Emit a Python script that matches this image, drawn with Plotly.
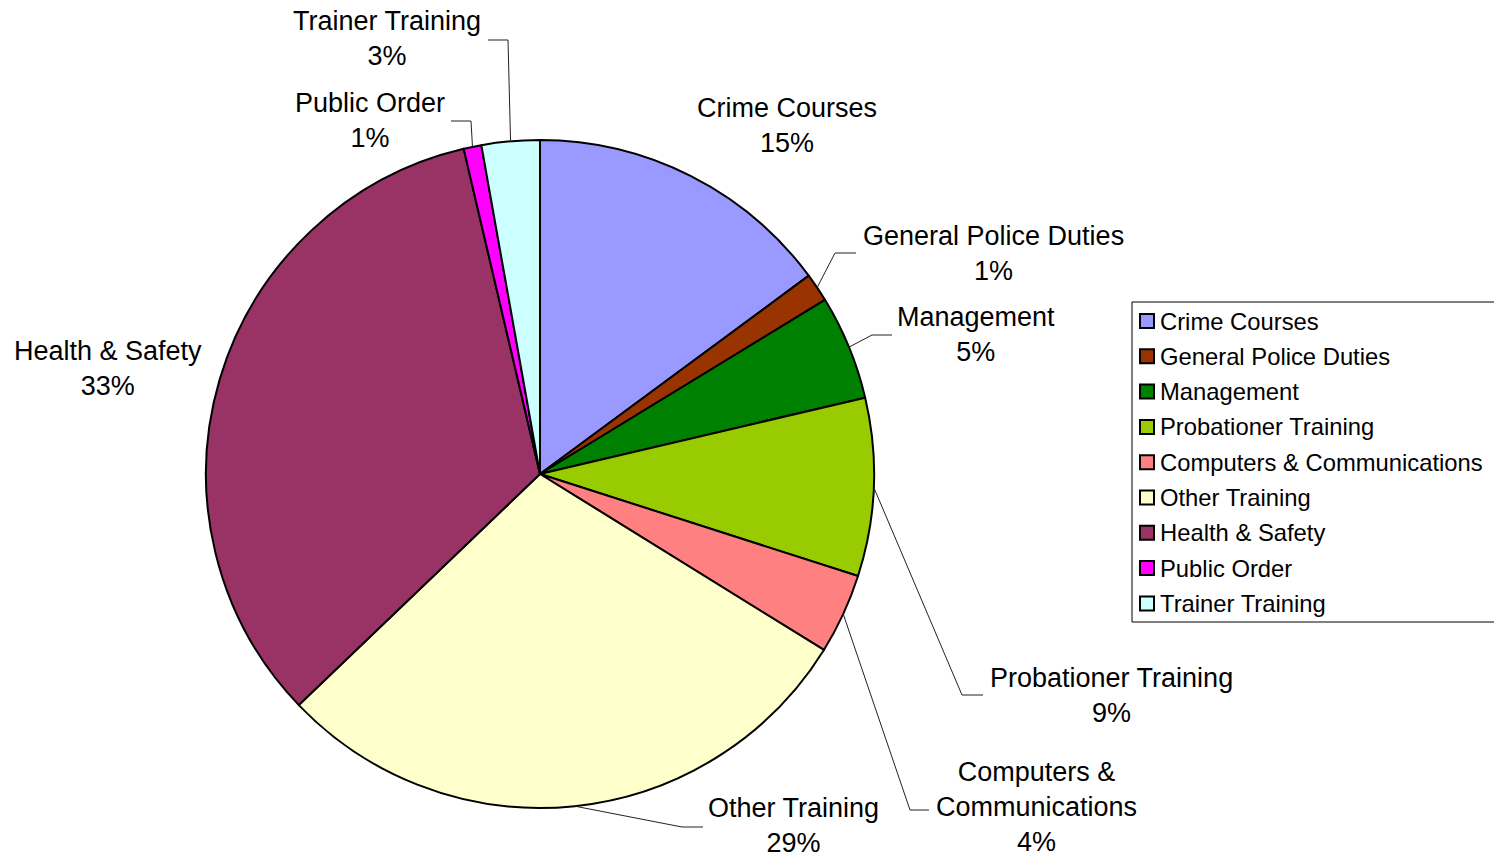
import math
import plotly.graph_objects as go

# ---- data ----
categories = ["Crime Courses", "General Police Duties", "Management", "Probationer Training",
              "Computers & Communications", "Other Training", "Health & Safety",
              "Public Order", "Trainer Training"]
values = [14.88, 1.39, 5.06, 8.61, 3.89, 29.01, 33.49, 0.86, 2.81]
colors = ["#9999FF", "#993300", "#008000", "#99CC00", "#FF8080",
          "#FFFFCC", "#993366", "#FF00FF", "#CCFFFF"]

# ---- layout constants (pixels) ----
W, H = 1494, 858
CX, CY, R = 540, 474, 334
FONT = "Liberation Sans, Arial, sans-serif"

label_breaks = {"Computers & Communications": "Computers &<br>Communications"}
# text-block centre, and leader elbow/end (None = no leader)
label_layout = {
    "Crime Courses": ((787, 125), None),
    "General Police Duties": ((993, 253), [(835, 253), (856, 253)]),
    "Management": ((976, 334), [(872, 335), (892, 335)]),
    "Probationer Training": ((1111, 695), [(962, 695), (983, 695)]),
    "Computers & Communications": ((1036, 807), [(910, 810), (929, 810)]),
    "Other Training": ((794, 825.5), [(682, 827), (703, 827)]),
    "Health & Safety": ((108, 369), None),
    "Public Order": ((370, 120.5), [(471, 121), (451, 121)]),
    "Trainer Training": ((387, 39), [(508, 40), (488, 40)]),
}


def px(x):
    return x / W


def py(y):
    return 1 - y / H


fig = go.Figure(go.Pie(
    labels=categories, values=values, sort=False, direction="clockwise", rotation=0,
    marker=dict(colors=colors, line=dict(color="black", width=2)),
    textinfo="none", showlegend=False,
    domain=dict(x=[px(CX - R), px(CX + R)], y=[py(CY + R), py(CY - R)]),
))

total = sum(values)
annotations = []
shapes = []
cum = 0.0
for cat, v in zip(categories, values):
    mid = (cum + v / 2) / total * 2 * math.pi
    cum += v
    sx, sy = CX + R * math.sin(mid), CY - R * math.cos(mid)
    (tx, ty), leader = label_layout[cat]
    pct = round(v / total * 100)
    text = f"{label_breaks.get(cat, cat)}<br>{pct}%"
    annotations.append(dict(x=px(tx), y=py(ty), xref="paper", yref="paper", text=text,
                            showarrow=False, xanchor="center", yanchor="middle",
                            font=dict(family=FONT, size=27, color="black")))
    if leader:
        pts = [(sx, sy)] + leader
        path = "M " + " L ".join(f"{px(a)} {py(b)}" for a, b in pts)
        shapes.append(dict(type="path", path=path, xref="paper", yref="paper",
                           line=dict(color="#222222", width=1)))

# ---- legend (drawn) ----
LX0, LY0, LY1 = 1132, 302, 622
shapes.append(dict(type="rect", xref="paper", yref="paper", x0=px(LX0), x1=px(W + 10),
                   y0=py(LY1), y1=py(LY0), line=dict(color="black", width=1),
                   fillcolor="rgba(0,0,0,0)"))
for i, (cat, col) in enumerate(zip(categories, colors)):
    cy = 321 + i * 35.3
    shapes.append(dict(type="rect", xref="paper", yref="paper", x0=px(1140), x1=px(1154),
                       y0=py(cy + 7), y1=py(cy - 7), fillcolor=col,
                       line=dict(color="black", width=2)))
    annotations.append(dict(x=px(1158), y=py(cy), xref="paper", yref="paper", text=cat,
                            showarrow=False, xanchor="left", yanchor="middle",
                            font=dict(family=FONT, size=23.8, color="black")))

fig.update_layout(
    width=W, height=H, margin=dict(l=0, r=0, t=0, b=0),
    paper_bgcolor="white", plot_bgcolor="white",
    annotations=annotations, shapes=shapes, showlegend=False,
)

fig.write_html("out.html", config={"displayModeBar": False},
               post_script="document.body.style.margin='0';document.body.style.overflow='hidden';")
